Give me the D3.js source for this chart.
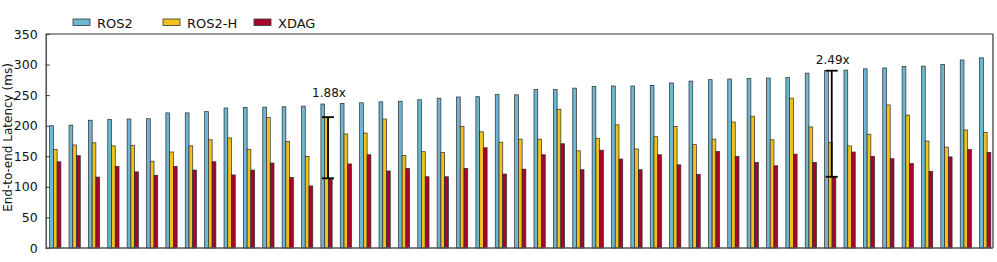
<!DOCTYPE html>
<html>
<head>
<meta charset="utf-8">
<script src="https://cdn.jsdelivr.net/npm/d3@7"></script>
<style>
  body { margin: 0; background: #fff; }
  text { font-family: "DejaVu Sans", sans-serif; fill: #111; }
</style>
</head>
<body>
<div id="chart"></div>
<script>
// values, one entry per run (49 runs)
var series = ["ROS2", "ROS2-H", "XDAG"];
var colors = ["#6db7d2", "#f1c11d", "#a8052c"];

var ros2 = [200, 201, 209, 210, 211, 211.5, 221, 221, 223, 229, 230, 230.5, 231, 232, 235.5,
  236.5, 237.5, 239, 240, 242.5, 245, 247, 247.5, 251, 250.5, 259, 259, 261.5, 264, 265, 265, 266,
  270, 273, 275.3, 276.4, 277.5, 278, 279, 286, 290, 291, 293, 294.5, 297, 297.5, 300, 307.5, 311];
var ros2h = [161, 168.5, 172, 167, 168, 142, 157, 167, 177, 180, 161.5, 213.5, 174.5, 149.5, 214,
  186.5, 188, 211, 151.5, 157.5, 156.5, 198.5, 190, 173, 178, 178, 227, 159, 179.5, 201.5, 162, 182,
  198.5, 169, 178, 206, 215.5, 177, 245, 198, 172.5, 167, 186, 234, 217.5, 175, 165, 193, 189];
var xdag = [141, 151, 116, 133.5, 124.5, 119, 133.5, 127.5, 141, 119.5, 127.5, 139, 115.5, 101.5, 114,
  137.5, 152.5, 126, 130, 116.5, 116.5, 130, 164, 121, 129, 152.5, 170.5, 128, 160, 145.5, 128, 152.5,
  136, 120.5, 158, 149.5, 140, 134.5, 153.5, 140, 116.5, 157, 150, 146, 138, 125.5, 149, 161, 156.5];

var yTicks = [0, 50, 100, 150, 200, 250, 300, 350];

// speed-up markers: run index, upper series, lower series, label
var markRun = [14, 40];
var markFrom = [1, 0];
var markTo = [2, 2];
var markLabel = ["1.88x", "2.49x"];

var w = 997, h = 262;
var plotL = 45.7, plotR = 993, plotT = 34, plotB = 248;

var data = ros2.map(function(d, i) {
  return { run: i, vals: [ros2[i], ros2h[i], xdag[i]] };
});

var svg = d3.select("#chart").append("svg")
  .attr("width", w)
  .attr("height", h);

var xScale = d3.scaleBand()
  .domain(d3.range(data.length))
  .range([46.5, 994])
  .paddingInner(0.42)
  .paddingOuter(0.163);

var xSub = d3.scaleBand()
  .domain(d3.range(series.length))
  .range([0, xScale.bandwidth()]);

var yScale = d3.scaleLinear()
  .domain([0, 350])
  .range([plotB, plotT]);

// bars
var groups = svg.append("g").selectAll("g")
  .data(data)
  .enter().append("g")
  .attr("transform", function(d) { return "translate(" + xScale(d.run) + ",0)"; });

groups.selectAll("rect")
  .data(function(d) { return d.vals; })
  .enter().append("rect")
  .attr("x", function(d, i) { return xSub(i); })
  .attr("y", function(d) { return yScale(d); })
  .attr("width", xSub.bandwidth())
  .attr("height", function(d) { return plotB - yScale(d); })
  .attr("fill", function(d, i) { return colors[i]; })
  .attr("stroke", "#2b2b2b")
  .attr("stroke-width", 0.7);

// y axis, ticks point inward
var yAxis = d3.axisLeft(yScale)
  .tickValues(yTicks)
  .tickSizeInner(-4)
  .tickSizeOuter(0)
  .tickPadding(8);

var ya = svg.append("g")
  .attr("transform", "translate(" + plotL + ",0)")
  .call(yAxis);
ya.selectAll("text").style("font-size", "12.5px").attr("fill", "#111");
ya.selectAll("line").attr("stroke", "#333");
ya.select(".domain").attr("stroke", "#333").attr("stroke-width", 1.3);

// frame
svg.append("line").attr("x1", plotL).attr("x2", plotR).attr("y1", plotT).attr("y2", plotT)
  .attr("stroke", "#333").attr("stroke-width", 1.2);
svg.append("line").attr("x1", plotR).attr("x2", plotR).attr("y1", plotT).attr("y2", plotB)
  .attr("stroke", "#333").attr("stroke-width", 1.2);
svg.append("line").attr("x1", plotL).attr("x2", plotR).attr("y1", plotB).attr("y2", plotB)
  .attr("stroke", "#555").attr("stroke-width", 1.6);

// axis title
svg.append("text")
  .attr("transform", "translate(12,137.5) rotate(-90)")
  .attr("text-anchor", "middle")
  .style("font-size", "12px")
  .text("End-to-end Latency (ms)");

// speed-up markers
markRun.forEach(function(r, k) {
  var cx = xScale(r) + xScale.bandwidth() / 2 + 1.5;
  var y1 = yScale(data[r].vals[markFrom[k]]);
  var y2 = yScale(data[r].vals[markTo[k]]);
  var m = svg.append("g").attr("stroke", "#000").attr("stroke-width", 1.8);
  m.append("line").attr("x1", cx).attr("x2", cx).attr("y1", y1).attr("y2", y2);
  m.append("line").attr("x1", cx - 6).attr("x2", cx + 6).attr("y1", y1).attr("y2", y1);
  m.append("line").attr("x1", cx - 6).attr("x2", cx + 6).attr("y1", y2).attr("y2", y2);
  svg.append("text")
    .attr("x", cx + 1)
    .attr("y", yScale(d3.max(data[r].vals)) - 7)
    .attr("text-anchor", "middle")
    .style("font-size", "12px")
    .text(markLabel[k]);
});

// legend
var legendX = [97, 187, 278];
var legend = svg.append("g").selectAll("g")
  .data(series)
  .enter().append("g");
legend.append("rect")
  .attr("x", function(d, i) { return legendX[i] - 24; })
  .attr("y", 19)
  .attr("width", 17)
  .attr("height", 6.5)
  .attr("fill", function(d, i) { return colors[i]; })
  .attr("stroke", "#333")
  .attr("stroke-width", 0.8);
legend.append("text")
  .attr("x", function(d, i) { return legendX[i]; })
  .attr("y", 27.8)
  .style("font-size", "13px")
  .text(function(d) { return d; });
</script>
</body>
</html>
